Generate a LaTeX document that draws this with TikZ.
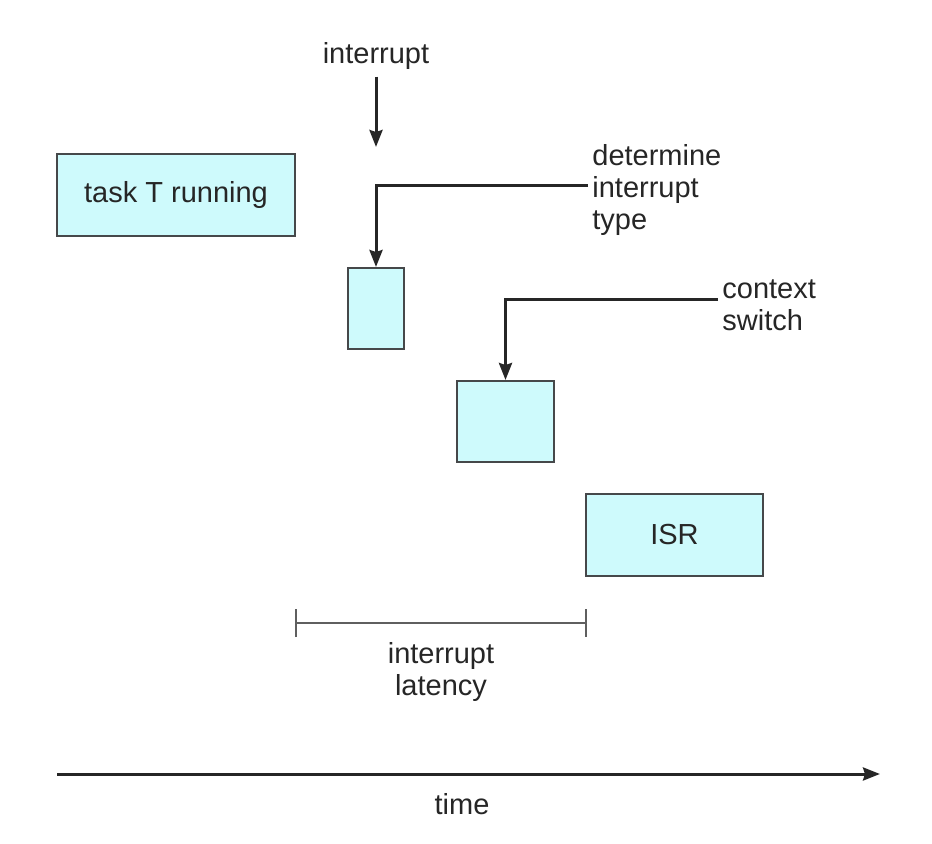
\documentclass[tikz,border=0pt]{standalone}
\usepackage{fontspec}
\setmainfont{Liberation Sans}
\usetikzlibrary{positioning, arrows.meta}

\definecolor{boxfill}{RGB}{206,250,252}
\definecolor{boxline}{RGB}{70,72,74}
\definecolor{inktext}{RGB}{38,38,38}
\definecolor{barline}{RGB}{95,95,95}

\begin{document}
\begin{tikzpicture}[
    x=0.5pt, y=-0.5pt,
    >={Stealth[length=8.5pt, width=6.5pt, inset=1pt]},
    font=\fontsize{14.5}{16}\selectfont,
    text=inktext,
    phasebox/.style={
        draw=boxline,
        fill=boxfill,
        line width=1pt,
        inner sep=0pt
    },
    callout/.style={
        align=left,
        anchor=west,
        inner sep=2pt
    },
    pointer/.style={
        ->,
        line width=1.5pt,
        draw=black!85
    }
]
    \useasboundingbox (0,0) rectangle (932,844);

    \node[phasebox, minimum width=119pt, minimum height=41pt] (task) at (176,195) {task T running};
    \node[phasebox, minimum width=28pt, minimum height=40.5pt] (dtype) at (376,308.5) {};
    \node[phasebox, minimum width=48.5pt, minimum height=40.5pt] (cswitch) at (505.5,421.5) {};
    \node[phasebox, minimum width=88.5pt, minimum height=41pt] (isr) at (674.5,535) {ISR};

    \node (intr) at (376,56) {interrupt};
    \coordinate (intrtip) at (376,147);
    \draw[pointer] (intr) -- (intrtip);

    \node[callout] (dlabel) at (588,190) {determine\\interrupt\\type};
    \draw[pointer] ([yshift=2pt]dlabel.west) -| (dtype.north);

    \node[callout] (clabel) at (718,305) {context\\switch};
    \draw[pointer] ([yshift=2.5pt]clabel.west) -| (cswitch.north);

    \coordinate (lat0) at (295,623);
    \coordinate (lat1) at (587,623);
    \draw[{Bar[width=14pt]}-{Bar[width=14pt]}, line width=1pt, barline] (lat0) -- (lat1);
    \node[align=center] (latency) at (441,672.5) {interrupt\\latency};

    \coordinate (t0) at (57,774);
    \coordinate (t1) at (880,774);
    \draw[pointer] (t0) -- (t1);
    \node (time) at (462,804) {time};
\end{tikzpicture}
\end{document}
